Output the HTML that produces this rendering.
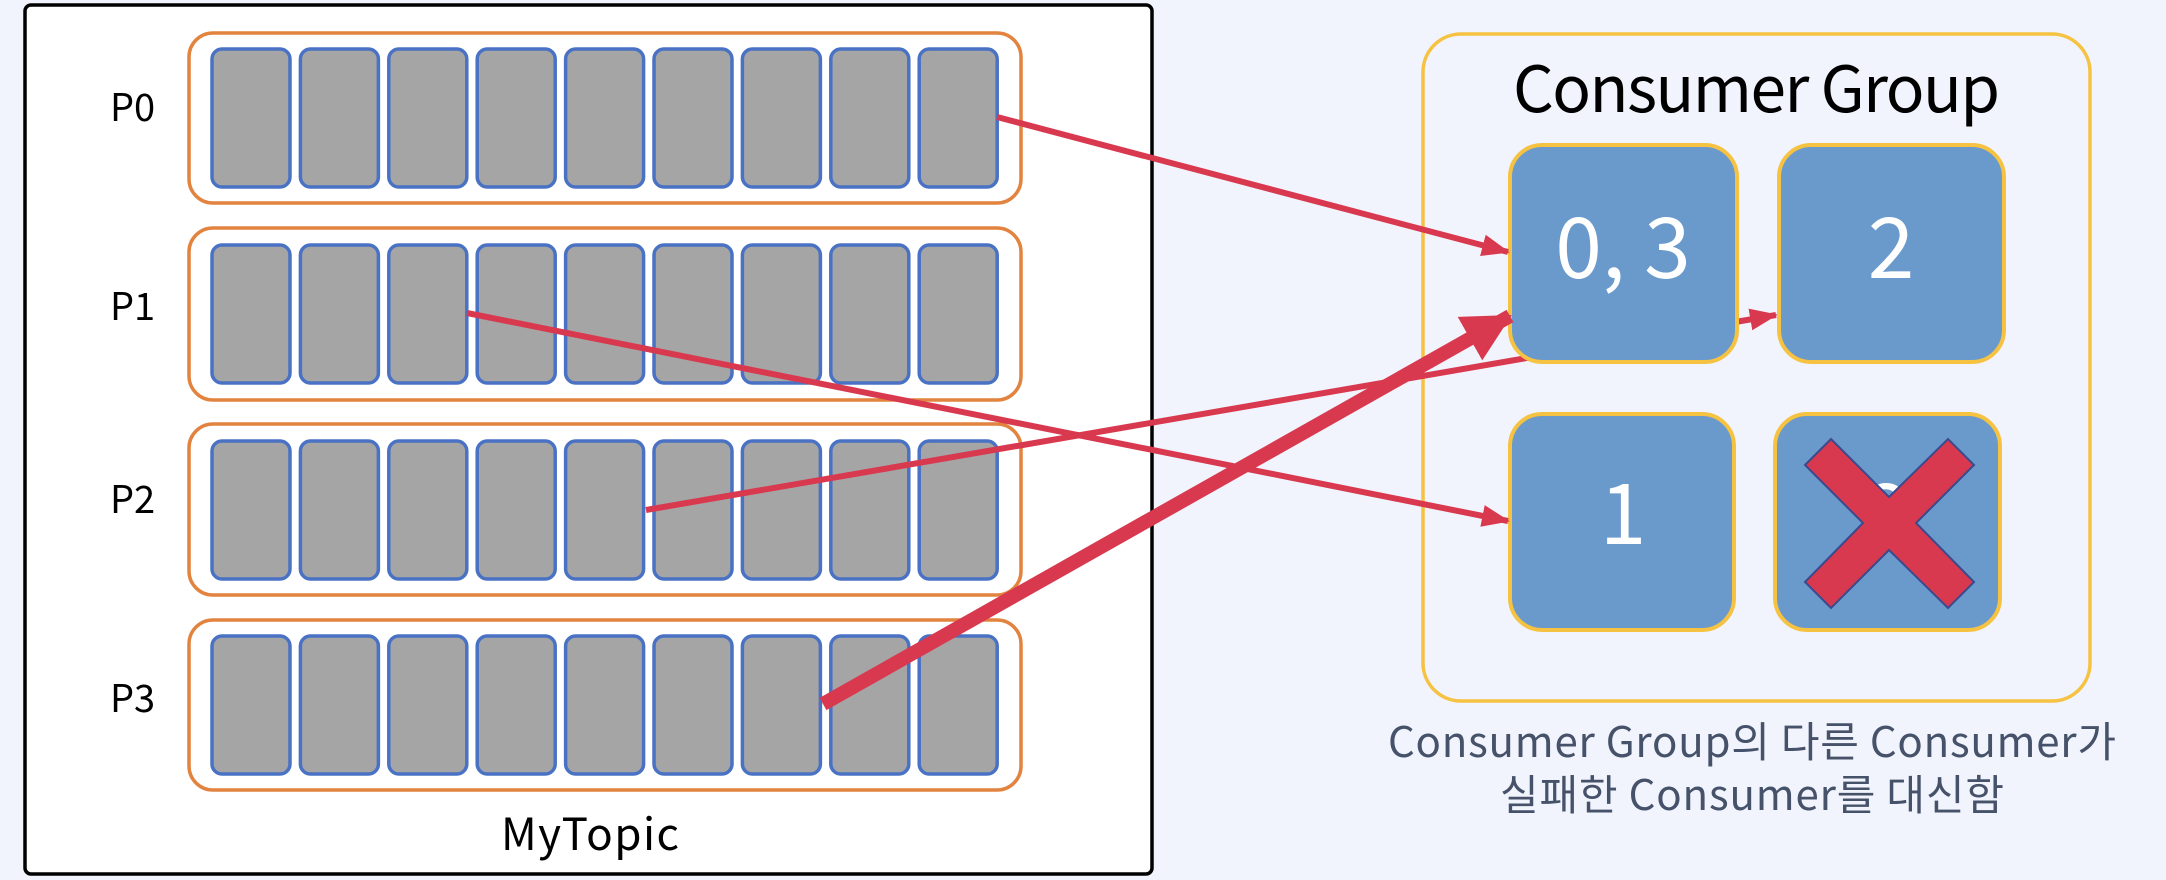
<!DOCTYPE html>
<html><head><meta charset="utf-8"><style>
html,body{margin:0;padding:0;background:#f1f4fc;}
svg{display:block;}
text{font-family:"Noto Sans CJK KR","Liberation Sans",sans-serif;}
</style></head><body>
<svg width="2166" height="880" viewBox="0 0 2166 880" xmlns="http://www.w3.org/2000/svg">
<defs>
<marker id="ah" markerUnits="userSpaceOnUse" markerWidth="30" markerHeight="24" refX="26" refY="11" orient="auto"><path d="M0,0 L28,11 L0,22 z" fill="#d9394f"/></marker>
<marker id="ahb" markerUnits="userSpaceOnUse" markerWidth="52" markerHeight="52" refX="46" refY="25" orient="auto"><path d="M0,0 L48,25 L0,50 z" fill="#d9394f"/></marker>
</defs>
<rect x="0" y="0" width="2166" height="880" fill="#f1f4fc"/>
<rect x="25" y="5" width="1127" height="869" rx="6" fill="#fff" stroke="#000" stroke-width="3.5"/>
<g id="parts">
<rect x="189" y="33" width="832" height="170" rx="24" fill="#fff" stroke="#e2843f" stroke-width="3.5"/>
<rect x="189" y="228" width="832" height="172" rx="24" fill="#fff" stroke="#e2843f" stroke-width="3.5"/>
<rect x="189" y="424" width="832" height="171" rx="24" fill="#fff" stroke="#e2843f" stroke-width="3.5"/>
<rect x="189" y="620" width="832" height="170" rx="24" fill="#fff" stroke="#e2843f" stroke-width="3.5"/>
</g>
<g fill="#a5a5a5" stroke="#4a72c4" stroke-width="3.5">
<!-- rows -->
<g id="row"><rect x="212" y="49" width="78" height="138" rx="10"/><rect x="300.4" y="49" width="78" height="138" rx="10"/><rect x="388.8" y="49" width="78" height="138" rx="10"/><rect x="477.2" y="49" width="78" height="138" rx="10"/><rect x="565.6" y="49" width="78" height="138" rx="10"/><rect x="654" y="49" width="78" height="138" rx="10"/><rect x="742.4" y="49" width="78" height="138" rx="10"/><rect x="830.8" y="49" width="78" height="138" rx="10"/><rect x="919.2" y="49" width="78" height="138" rx="10"/></g>
<use href="#row" y="196"/>
<use href="#row" y="392"/>
<use href="#row" y="587"/>
</g>
<g font-size="38" fill="#000">
<text x="110" y="121">P0</text>
<text x="110" y="320">P1</text>
<text x="110" y="513">P2</text>
<text x="110" y="712">P3</text>
</g>
<text x="501" y="850" font-size="44" textLength="178" fill="#000">MyTopic</text>

<rect x="1423" y="34" width="667" height="667" rx="38" fill="none" stroke="#f5c242" stroke-width="3.5"/>
<text x="1513" y="112" font-size="64" textLength="487" fill="#000">Consumer Group</text>

<line x1="646" y1="510" x2="1776" y2="315" stroke="#d9394f" stroke-width="6" marker-end="url(#ah)"/>

<g fill="#6a99cc" stroke="#f5c242" stroke-width="4">
<rect x="1510" y="145" width="227" height="217" rx="32"/>
<rect x="1779" y="145" width="225" height="217" rx="32"/>
<rect x="1510" y="414" width="224" height="216" rx="32"/>
<rect x="1775" y="414" width="225" height="216" rx="32"/>
</g>
<g fill="#fff" font-size="84" text-anchor="middle" font-family="'Noto Sans CJK KR','Liberation Sans',sans-serif">
<text x="1623" y="278">0, 3</text>
<text x="1891" y="278">2</text>
<text x="1623" y="544">1</text>
<text x="1888" y="544">2</text>
</g>
<polygon points="1805,465 1831,439 1889,497 1948,439 1974,465 1916,523 1974,582 1948,608 1889,550 1831,608 1805,582 1863,523" fill="#d9394f" stroke="#3b4a8c" stroke-width="2"/>

<line x1="997" y1="117" x2="1508" y2="252" stroke="#d9394f" stroke-width="6" marker-end="url(#ah)"/>
<line x1="467" y1="313" x2="1508" y2="521" stroke="#d9394f" stroke-width="6" marker-end="url(#ah)"/>
<line x1="823" y1="704" x2="1510" y2="316" stroke="#d9394f" stroke-width="14" marker-end="url(#ahb)"/>

<g fill="#46526a" font-size="42">
<text x="1388" y="757" textLength="728">Consumer Group의 다른 Consumer가</text>
<text x="1500" y="810" textLength="504">실패한 Consumer를 대신함</text>
</g>
</svg>
</body></html>
